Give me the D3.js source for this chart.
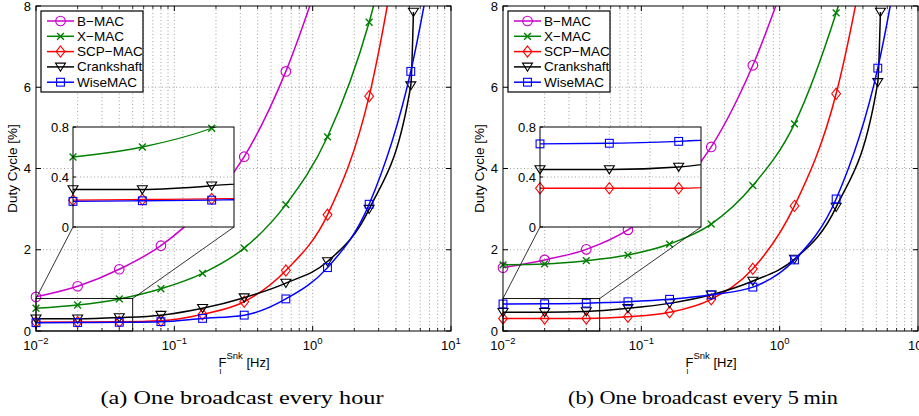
<!DOCTYPE html>
<html><head><meta charset="utf-8">
<script src="https://cdn.jsdelivr.net/npm/d3@7"></script>
<style>body{margin:0;background:#fff}svg{display:block}text{font-family:"Liberation Sans",Arial,sans-serif;fill:#000}</style>
</head><body><svg id="c" width="919" height="416"></svg>
<script>
// ---------- data ----------
const freqs = [0.01, 0.02, 0.04, 0.08, 0.16, 0.32, 0.64, 1.28, 2.56, 5.12, 10.24];
const crankFreqs = [0.01, 0.02, 0.04, 0.08, 0.16, 0.32, 0.64, 1.28, 2.56, 5.12, 5.35];
const seriesNames = ["B\u2212MAC", "X\u2212MAC", "SCP\u2212MAC", "Crankshaft", "WiseMAC"];
const yTicks = [0, 2, 4, 6, 8];
const insetYTicks = [0, 0.4, 0.8];
const xTickExps = [-2, -1, 0, 1];
const captions = ["(a) One broadcast every hour", "(b) One broadcast every 5\u2009min"];

// (a) one broadcast every hour
const bmacA  = [0.84, 1.10, 1.52, 2.10, 3.00, 4.29, 6.39, 9.3];
const xmacA  = [0.56, 0.64, 0.79, 1.04, 1.42, 2.04, 3.11, 4.78, 7.60, 12.0];
const scpA   = [0.215, 0.22, 0.225, 0.25, 0.41, 0.72, 1.49, 2.86, 5.78, 11.5];
const crankA = [0.30, 0.30, 0.33, 0.39, 0.56, 0.82, 1.18, 1.71, 3.00, 6.04, 7.85];
const wiseA  = [0.205, 0.21, 0.215, 0.23, 0.31, 0.39, 0.79, 1.56, 3.12, 6.39, 12.2];

// (b) one broadcast every 5 min
const bmacB  = [1.56, 1.75, 2.01, 2.49, 3.30, 4.53, 6.54, 9.3];
const xmacB  = [1.63, 1.65, 1.73, 1.87, 2.14, 2.63, 3.58, 5.10, 7.83, 11.5];
const scpB   = [0.31, 0.31, 0.31, 0.35, 0.46, 0.78, 1.53, 3.08, 5.84, 11.0];
const crankB = [0.46, 0.46, 0.48, 0.56, 0.68, 0.89, 1.23, 1.77, 3.05, 6.12, 7.85];
const wiseB  = [0.665, 0.67, 0.685, 0.72, 0.78, 0.89, 1.08, 1.75, 3.25, 6.47, 12.4];

// ---------- styles ----------
const colors = ["#cc00cc", "#008000", "#ff0000", "#000000", "#0000ff"];
const markers = ["circle", "cross", "diamond", "tri", "square"];

const panels = [
  {x0: 36, series: [bmacA, xmacA, scpA, crankA, wiseA], caption: captions[0], capX: 242, capW: 283},
  {x0: 503, series: [bmacB, xmacB, scpB, crankB, wiseB], caption: captions[1], capX: 703, capW: 270}
];

const svg = d3.select("#c");
const defs = svg.append("defs");
const TOP = 6, BOT = 331, W = 415;

function drawMarker(g, type, cx, cy, color) {
  const s = g.append("g").attr("transform", `translate(${cx},${cy})`)
    .attr("fill", "none").attr("stroke", color).attr("stroke-width", 1.1);
  if (type === "circle") s.append("circle").attr("r", 4.8);
  else if (type === "cross") s.append("path").attr("d", "M-3.4,-3.4L3.4,3.4M-3.4,3.4L3.4,-3.4").attr("stroke-width", 1.4);
  else if (type === "diamond") s.append("path").attr("d", "M0,-5.6L4.4,0L0,5.6L-4.4,0Z");
  else if (type === "tri") s.append("path").attr("d", "M-5,-3.8L5,-3.8L0,4.4Z");
  else if (type === "square") s.append("rect").attr("x", -3.9).attr("y", -3.9).attr("width", 7.8).attr("height", 7.8);
}

function xsFor(i) { return i === 3 ? crankFreqs : freqs; }

function supText(sel, base, exp, size, supSize) {
  sel.append("tspan").text(base).attr("font-size", size);
  sel.append("tspan").text(exp).attr("font-size", supSize).attr("dy", -6);
}

panels.forEach((p, pi) => {
  const g = svg.append("g");
  const x = d3.scaleLog().domain([0.01, 10]).range([p.x0, p.x0 + W]);
  const y = d3.scaleLinear().domain([0, 8]).range([BOT, TOP]);

  const clipId = "clipMain" + pi;
  defs.append("clipPath").attr("id", clipId).append("rect")
    .attr("x", p.x0).attr("y", TOP).attr("width", W).attr("height", BOT - TOP);

  // grid
  const minor = [];
  for (let e = -2; e < 1; e++) for (let m = 2; m <= 9; m++) minor.push(m * Math.pow(10, e));
  const gridX = minor.concat([0.1, 1]);
  g.selectAll(".gx").data(gridX).enter().append("line")
    .attr("x1", d => x(d)).attr("x2", d => x(d)).attr("y1", TOP).attr("y2", BOT)
    .attr("stroke", "#777").attr("stroke-width", 0.7).attr("stroke-dasharray", "1,2.5");
  g.selectAll(".gy").data(yTicks.slice(1, -1)).enter().append("line")
    .attr("x1", p.x0).attr("x2", p.x0 + W).attr("y1", d => y(d)).attr("y2", d => y(d))
    .attr("stroke", "#777").attr("stroke-width", 0.7).attr("stroke-dasharray", "1,2.5");

  // series in main plot
  const line = d3.line().x(d => x(d[0])).y(d => y(d[1])).curve(d3.curveMonotoneX);
  p.series.forEach((vals, si) => {
    const xs = xsFor(si);
    const pts = vals.map((v, k) => [xs[k], v]);
    g.append("path").attr("d", line(pts)).attr("clip-path", `url(#${clipId})`)
      .attr("fill", "none").attr("stroke", colors[si]).attr("stroke-width", 1.5);
    pts.filter(d => d[1] <= 8 && d[0] <= 10).forEach(d => drawMarker(g, markers[si], x(d[0]), y(d[1]), colors[si]));
  });

  // axes box & ticks
  g.append("rect").attr("x", p.x0).attr("y", TOP).attr("width", W).attr("height", BOT - TOP)
    .attr("fill", "none").attr("stroke", "#000").attr("stroke-width", 1);
  minor.forEach(d => {
    g.append("line").attr("x1", x(d)).attr("x2", x(d)).attr("y1", BOT).attr("y2", BOT - 3).attr("stroke", "#000").attr("stroke-width", 0.8);
    g.append("line").attr("x1", x(d)).attr("x2", x(d)).attr("y1", TOP).attr("y2", TOP + 3).attr("stroke", "#000").attr("stroke-width", 0.8);
  });
  xTickExps.forEach(e => {
    const xv = x(Math.pow(10, e));
    g.append("line").attr("x1", xv).attr("x2", xv).attr("y1", BOT).attr("y2", BOT - 5).attr("stroke", "#000");
    g.append("line").attr("x1", xv).attr("x2", xv).attr("y1", TOP).attr("y2", TOP + 5).attr("stroke", "#000");
    const t = g.append("text").attr("x", xv).attr("y", 350).attr("text-anchor", "middle");
    supText(t, "10", e < 0 ? "\u2212" + (-e) : String(e), 13, 9.5);
  });
  yTicks.forEach(d => {
    g.append("line").attr("x1", p.x0).attr("x2", p.x0 + 5).attr("y1", y(d)).attr("y2", y(d)).attr("stroke", "#000");
    g.append("line").attr("x1", p.x0 + W).attr("x2", p.x0 + W - 5).attr("y1", y(d)).attr("y2", y(d)).attr("stroke", "#000");
    g.append("text").attr("x", p.x0 - 5).attr("y", y(d) + 4.5).attr("text-anchor", "end").attr("font-size", 13).text(d);
  });

  // y label
  g.append("text").attr("transform", `translate(${p.x0 - 19},${(TOP + BOT) / 2}) rotate(-90)`)
    .attr("text-anchor", "middle").attr("font-size", 13.5).text("Duty Cycle [%]");
  // x label
  const xl = g.append("text").attr("x", p.x0 + W / 2 - 25).attr("y", 367).attr("font-size", 13);
  xl.append("tspan").text("F");
  xl.append("tspan").text("Snk").attr("font-size", 9.5).attr("dy", -8);
  xl.append("tspan").text(" [Hz]").attr("dy", 8);
  g.append("text").attr("x", p.x0 + W / 2 - 24).attr("y", 374).attr("font-size", 8).text("l");

  // zoom rectangle & connectors
  const ix = d3.scaleLog().domain([0.01, 0.05]).range([p.x0 + 37, p.x0 + 198]);
  const iy = d3.scaleLinear().domain([0, 0.8]).range([227, 127]);
  g.append("rect").attr("x", x(0.01)).attr("y", y(0.8)).attr("width", x(0.05) - x(0.01)).attr("height", y(0) - y(0.8))
    .attr("fill", "none").attr("stroke", "#000").attr("stroke-width", 0.9);
  g.append("line").attr("x1", x(0.01)).attr("y1", y(0.8)).attr("x2", ix(0.01)).attr("y2", iy(0)).attr("stroke", "#000").attr("stroke-width", 0.8);
  g.append("line").attr("x1", x(0.05)).attr("y1", y(0.8)).attr("x2", ix(0.05)).attr("y2", iy(0)).attr("stroke", "#000").attr("stroke-width", 0.8);

  // inset
  const ig = g.append("g");
  const iclip = "clipIn" + pi;
  defs.append("clipPath").attr("id", iclip).append("rect")
    .attr("x", ix(0.01)).attr("y", iy(0.8)).attr("width", ix(0.05) - ix(0.01)).attr("height", iy(0) - iy(0.8));
  ig.append("rect").attr("x", ix(0.01)).attr("y", iy(0.8)).attr("width", ix(0.05) - ix(0.01)).attr("height", iy(0) - iy(0.8))
    .attr("fill", "#fff");
  [0.02, 0.03, 0.04].forEach(d => {
    ig.append("line").attr("x1", ix(d)).attr("x2", ix(d)).attr("y1", iy(0.8)).attr("y2", iy(0))
      .attr("stroke", "#777").attr("stroke-width", 0.7).attr("stroke-dasharray", "1,2.5");
  });
  ig.append("line").attr("x1", ix(0.01)).attr("x2", ix(0.05)).attr("y1", iy(0.4)).attr("y2", iy(0.4))
    .attr("stroke", "#777").attr("stroke-width", 0.7).attr("stroke-dasharray", "1,2.5");
  const iline = d3.line().x(d => ix(d[0])).y(d => iy(d[1])).curve(d3.curveMonotoneX);
  p.series.forEach((vals, si) => {
    const xs = xsFor(si);
    const pts = vals.map((v, k) => [xs[k], v]);
    ig.append("path").attr("d", iline(pts)).attr("clip-path", `url(#${iclip})`)
      .attr("fill", "none").attr("stroke", colors[si]).attr("stroke-width", 1.3);
    pts.filter(d => d[0] <= 0.05 && d[1] <= 0.8).forEach(d => drawMarker(ig, markers[si], ix(d[0]), iy(d[1]), colors[si]));
  });
  ig.append("rect").attr("x", ix(0.01)).attr("y", iy(0.8)).attr("width", ix(0.05) - ix(0.01)).attr("height", iy(0) - iy(0.8))
    .attr("fill", "none").attr("stroke", "#000").attr("stroke-width", 1);
  insetYTicks.forEach(d => {
    ig.append("line").attr("x1", ix(0.01)).attr("x2", ix(0.01) + 3).attr("y1", iy(d)).attr("y2", iy(d)).attr("stroke", "#000");
    ig.append("text").attr("x", ix(0.01) - 4).attr("y", iy(d) + 4.5).attr("text-anchor", "end").attr("font-size", 13).text(d);
  });

  // legend
  const lg = g.append("g");
  const lx = p.x0 + 5, ly = 11;
  lg.append("rect").attr("x", lx).attr("y", ly).attr("width", 102).attr("height", 81)
    .attr("fill", "#fff").attr("stroke", "#000").attr("stroke-width", 1.2);
  seriesNames.forEach((n, si) => {
    const yy = ly + 10 + si * 15.3;
    lg.append("line").attr("x1", lx + 6).attr("x2", lx + 33).attr("y1", yy).attr("y2", yy)
      .attr("stroke", colors[si]).attr("stroke-width", 1.5);
    drawMarker(lg, markers[si], lx + 19.5, yy, colors[si]);
    lg.append("text").attr("x", lx + 36).attr("y", yy + 4.5).attr("font-size", 13.5).text(n);
  });

  // caption
  svg.append("text").attr("x", p.capX).attr("y", 404).attr("text-anchor", "middle")
    .style("font-family", "'Liberation Serif','DejaVu Serif',serif").attr("font-size", 19)
    .attr("textLength", p.capW).attr("lengthAdjust", "spacingAndGlyphs")
    .text(p.caption);
});
</script></body></html>
